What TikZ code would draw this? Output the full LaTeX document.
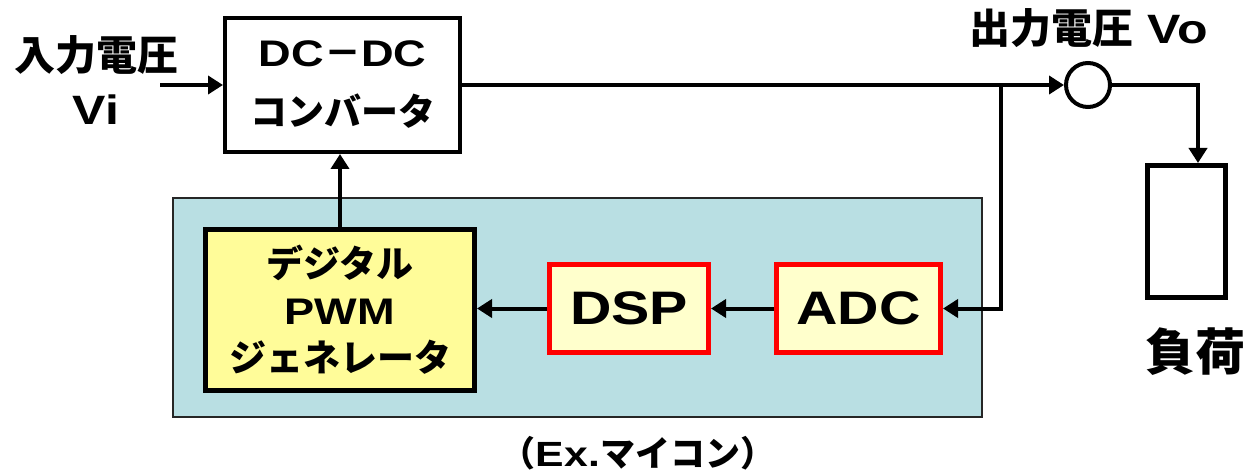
\documentclass[tikz,border=0pt]{standalone}
\usepackage{fontspec}
\setmainfont{Liberation Sans}[FakeStretch=1.22]
\newfontfamily\jp{Noto Sans CJK JP}
\usetikzlibrary{arrows.meta}

\definecolor{mcufill}{HTML}{B9DFE3}
\definecolor{pwmfill}{HTML}{FFFC99}
\definecolor{chipfill}{HTML}{FFFFCC}

\tikzset{
  blk/.style={draw, line width=4pt, align=center, inner sep=0pt},
  chip/.style={draw=red, fill=chipfill, line width=5pt, inner sep=0pt,
    font=\bfseries\fontsize{47}{56}\selectfont},
  arr/.style={-{Triangle[length=15pt,width=18pt]}, line width=4pt},
  lbl/.style={align=center, inner sep=0pt, font=\bfseries\fontsize{41}{54}\selectfont},
}

\begin{document}
\begin{tikzpicture}[x=1pt, y=-1pt, line join=miter]
\useasboundingbox (0,0) rectangle (1249,473);

% microcontroller area
\node[draw=black!85, fill=mcufill, line width=2.5pt, minimum width=809pt, minimum height=219pt] (mcu) at (577.5,307.5) {};
\node[lbl, font=\bfseries\fontsize{35}{40}\selectfont, anchor=north] (mcutext) at (638,436) {{\jp （}Ex.{\jp マイコン）}};

% converter and load
\node[blk, fill=white, minimum width=235pt, minimum height=134pt,
  font=\bfseries\fontsize{37}{59}\selectfont] (conv) at (342.5,85) {DC{\jp －}DC\\{\jp コンバータ}};
\node[draw, line width=4pt, circle, minimum size=44pt, inner sep=0pt] (vo) at (1088,85) {};
\node[blk, line width=5pt, minimum width=78pt, minimum height=132pt] (load) at (1186.5,231.5) {};

% blocks inside the controller
\node[blk, fill=pwmfill, line width=5pt, minimum width=269pt, minimum height=161pt,
  font=\bfseries\fontsize{37}{47}\selectfont] (pwm) at (340,310) {{\jp デジタル}\\PWM\\{\jp ジェネレータ}};
\node[chip, minimum width=159pt, minimum height=88pt] (dsp) at (629,308.5) {DSP};
\node[chip, minimum width=164pt, minimum height=88pt] (adc) at (858.5,308.5) {ADC};

% labels
\node[lbl] (vitext) at (96,80) {{\jp 入力電圧}\\Vi};
\node[lbl] (votext) at (1089,28) {{\jp 出力電圧} Vo};
\node[lbl, font=\bfseries\fontsize{50}{56}\selectfont] (loadtext) at (1195,352) {\jp 負荷};

% signal paths
\coordinate (vin) at (160,85);
\coordinate (tap) at (1001,85);
\draw[arr] (vin) -- (conv.west);
\draw[arr] (conv.east) -- (vo.west);
\draw[arr] (vo.east) -| ([xshift=11.5pt]load.north);
\draw[arr] (tap) |- (adc.east);
\draw[arr] (adc.west) -- (dsp.east);
\draw[arr] (dsp.west) -- (dsp.west -| pwm.east);
\draw[arr] (pwm.north) -- (pwm.north |- conv.south);
\end{tikzpicture}
\end{document}
